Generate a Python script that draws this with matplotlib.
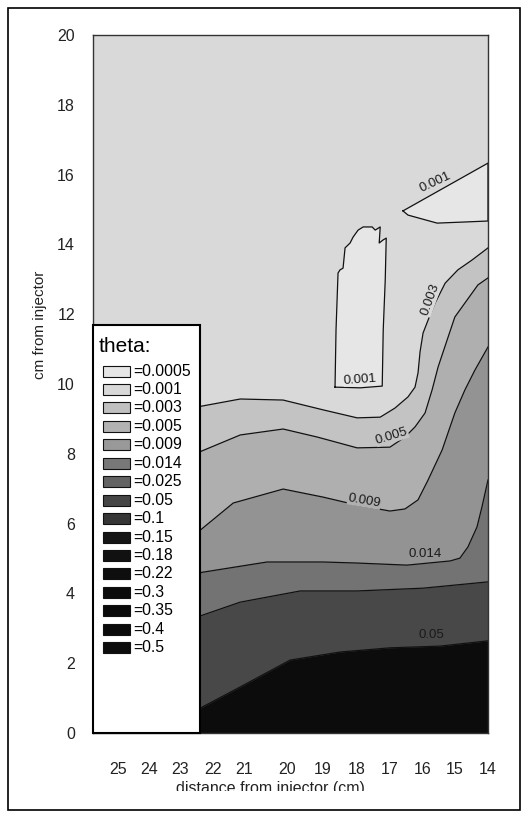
import numpy as np
import matplotlib
matplotlib.use('Agg')
import matplotlib.pyplot as plt
from matplotlib.patches import Rectangle
from matplotlib.transforms import Bbox, TransformedBbox

plt.rcParams['font.family'] = ['Liberation Sans', 'DejaVu Sans']

W, H = 530, 818

# legend levels and their swatch greys
levels = ['0.0005', '0.001', '0.003', '0.005', '0.009', '0.014', '0.025', '0.05',
          '0.1', '0.15', '0.18', '0.22', '0.3', '0.35', '0.4', '0.5']
level_colors = ['#e6e6e6', '#d9d9d9', '#c0c0c0', '#b2b2b2', '#999999', '#787878',
                '#636363', '#454545', '#363636', '#161616', '#111111', '#0e0e0e',
                '#0b0b0b', '#0a0a0a', '#0a0a0a', '#0c0c0c']

# distance axis (cm, reversed) - tick labels as placed in the picture
xtick_pos = [25.04, 24.12, 23.19, 22.21, 21.28, 20.0, 18.93, 17.91, 16.93, 15.94, 14.99, 14.0]
xtick_lab = ['25', '24', '23', '22', '21', '20', '19', '18', '17', '16', '15', '14']
ytick_pos = [0, 2, 4, 6, 8, 10, 12, 14, 16, 18, 20]

# contour lines: x = distance (cm), y = cm from injector
c003_x = [22.7, 21.40, 20.12, 18.93, 17.91, 17.22, 16.78, 16.39, 16.18, 16.09, 16.03,
          15.94, 15.79, 15.58, 15.28, 14.90, 14.48, 14.00]
c003_y = [9.34, 9.57, 9.54, 9.26, 9.03, 9.05, 9.31, 9.63, 9.91, 10.32, 10.92,
          11.46, 11.83, 12.32, 12.89, 13.27, 13.55, 13.90]

c005_x = [22.7, 21.40, 20.12, 19.10, 17.91, 16.93, 16.48, 16.18, 15.88, 15.67, 15.49,
          15.19, 14.99, 14.69, 14.30, 14.00]
c005_y = [8.02, 8.54, 8.71, 8.48, 8.17, 8.19, 8.48, 8.77, 9.17, 9.83, 10.49,
          11.35, 11.92, 12.32, 12.84, 13.04]

c009_x = [22.7, 21.61, 20.12, 18.93, 17.91, 16.93, 16.48, 16.09, 15.79, 15.37, 14.99,
          14.69, 14.39, 14.00]
c009_y = [5.73, 6.59, 6.99, 6.76, 6.53, 6.36, 6.42, 6.68, 7.25, 8.11, 9.17,
          9.83, 10.40, 11.06]

c014_x = [22.7, 20.60, 18.93, 17.91, 16.42, 15.13, 14.84, 14.60, 14.33, 14.18, 14.00]
c014_y = [4.58, 4.90, 4.90, 4.87, 4.81, 4.93, 5.01, 5.33, 5.90, 6.48, 7.25]

c025_x = [22.7, 21.40, 19.61, 17.91, 15.94, 14.00]
c025_y = [3.32, 3.75, 4.07, 4.07, 4.15, 4.33]

c05_x = [22.7, 21.40, 19.91, 18.42, 16.93, 15.43, 14.00]
c05_y = [0.66, 1.32, 2.09, 2.32, 2.44, 2.49, 2.64]

# closed 0.001 contours (island and wedge at right edge)
island_x = [18.57, 18.54, 18.48, 18.42, 18.33, 18.27, 18.12, 18.03, 17.88, 17.73, 17.46,
            17.37, 17.22, 17.25, 17.13, 17.04, 17.07, 17.13, 17.16, 17.82, 18.57]
island_y = [9.91, 11.55, 13.18, 13.27, 13.32, 13.90, 14.04, 14.21, 14.41, 14.50, 14.50,
            14.41, 14.50, 14.04, 14.13, 14.18, 12.98, 11.55, 9.94, 9.89, 9.91]
wedge_x = [16.54, 14.0, 14.0, 14.75, 15.52, 16.39, 16.54]
wedge_y = [14.96, 16.33, 14.67, 14.64, 14.61, 14.84, 14.96]

# fill greys: background, then region below each line
bg_color = '#d9d9d9'
light_color = '#e6e6e6'
band_colors = ['#c3c3c3', '#afafaf', '#939393', '#737373', '#484848', '#0c0c0c']

# inline contour labels: text, x, y, rotation, box colour (None = no box)
clabels = [('0.001', 15.58, 15.79, 25, None),
           ('0.001', 17.82, 10.13, 4, light_color),
           ('0.003', 15.73, 12.41, 70, bg_color),
           ('0.005', 16.87, 8.50, 17, band_colors[0]),
           ('0.009', 17.70, 6.65, -10, band_colors[1]),
           ('0.014', 15.88, 5.13, 0, None),
           ('0.05', 15.70, 2.80, 0, None)]

fig = plt.figure(figsize=(W / 100, H / 100), dpi=100)
ax = fig.add_axes([93 / W, 1 - 733 / H, 395 / W, 698 / H])
ax.set_xlim(25.8, 14)
ax.set_ylim(0, 20)
ax.set_facecolor(bg_color)

lines = [(c003_x, c003_y), (c005_x, c005_y), (c009_x, c009_y),
         (c014_x, c014_y), (c025_x, c025_y), (c05_x, c05_y)]
for (lx, ly), col in zip(lines, band_colors):
    ax.fill_between(lx, ly, 0, color=col, linewidth=0)
for lx, ly in lines:
    ax.plot(lx, ly, color='#111111', lw=0.9)

for px, py in [(island_x, island_y), (wedge_x, wedge_y)]:
    ax.fill(px, py, color=light_color, linewidth=0)
    ax.plot(px, py, color='#111111', lw=0.9)

for s, x, y, r, c in clabels:
    box = dict(fc=c, ec='none', pad=0.2) if c else None
    ax.text(x, y, s, rotation=r, rotation_mode='anchor', ha='center', va='center',
            fontsize=9.5, color='#1a1a1a', bbox=box)

ax.set_xticks(xtick_pos)
ax.set_xticklabels(xtick_lab)
ax.set_yticks(ytick_pos)
ax.tick_params(axis='both', length=0, labelsize=11.5, labelcolor='#222222')
ax.tick_params(axis='x', pad=21)
ax.tick_params(axis='y', pad=13)
for sp in ax.spines.values():
    sp.set_color('#333333')
    sp.set_linewidth(1)

# legend box (drawn by hand, it runs down to the bottom of the plot)
fig.add_artist(Rectangle((93 / W, 1 - 733 / H), 107 / W, 408 / H, transform=fig.transFigure,
                         fc='white', ec='black', lw=1.5, zorder=5))
fig.text(99 / W, 1 - 347 / H, 'theta:', fontsize=15, va='center', ha='left', zorder=6)
for i, (lev, col) in enumerate(zip(levels, level_colors)):
    yc = 371 + i * 18.45
    fig.add_artist(Rectangle((103 / W, 1 - (yc + 5.5) / H), 27 / W, 11 / H,
                             transform=fig.transFigure, fc=col, ec='#111111', lw=0.8, zorder=6))
    fig.text(133 / W, 1 - yc / H, '=' + lev, fontsize=11.3, va='center', ha='left', zorder=6)

# axis titles
fig.text(40 / W, 1 - 325 / H, 'cm from injector', rotation=90, fontsize=11,
         ha='center', va='center', color='#222222')
xl = fig.text(270 / W, 1 - 788 / H, 'distance from injector (cm)', fontsize=11.5,
              ha='center', va='center', color='#222222')
xl.set_clip_box(TransformedBbox(Bbox([[0, 1 - 791 / H], [1, 1]]), fig.transFigure))
xl.set_clip_on(True)

# outer frame
fig.add_artist(Rectangle((8 / W, 1 - 810 / H), 512 / W, 802 / H, transform=fig.transFigure,
                         fill=False, ec='black', lw=1.2))

fig.savefig('out.png', dpi=100)
